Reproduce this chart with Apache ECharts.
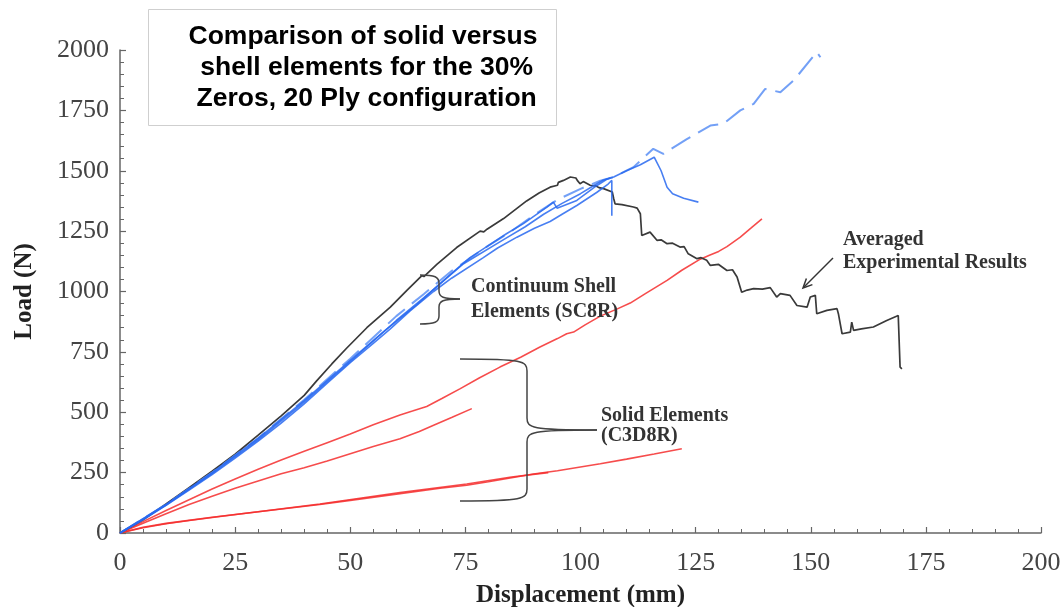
<!DOCTYPE html>
<html>
<head>
<meta charset="utf-8">
<title>Load vs displacement – solid vs shell elements</title>
<script src="https://cdn.jsdelivr.net/npm/echarts@6/dist/echarts.min.js"></script>
<style>
  html, body { margin: 0; padding: 0; background: #ffffff; }
  #chart { width: 1060px; height: 607px; }
</style>
</head>
<body>
<div id="chart"></div>
<script>
// ---- data: [displacement (mm), load (N)] ----
const experimentalAvg = [
  [0,0],[5,55],[10,120],[15,188],[20,256],[25,326],[30,405],[35,485],[40,570],[42.7,630],
  [46,700],[49.2,765],[53.6,850],[58.7,935],[62.3,1005],[65.5,1065],[66,1062],[68.8,1112],
  [73.1,1182],[78.2,1250],[79,1247],[79.7,1258],[83.3,1302],[88.3,1375],[91,1408],[93.4,1432],
  [95,1440],[95.2,1452],[96.3,1460],[97.8,1474],[99,1470],[99.3,1460],[99.9,1446],[100.6,1455],
  [102.1,1440],[103.5,1436],[104,1430],[105,1426],[106.9,1412],[107.2,1385],[107.5,1363],
  [109,1360],[111.5,1350],[112.3,1345],[113,1322],[113.3,1232],[115.1,1246],[116.6,1212],
  [117.5,1214],[118.8,1198],[120,1200],[121.6,1184],[122.5,1186],[123.4,1156],[125.3,1136],
  [126.2,1140],[127.4,1129],[128.2,1108],[130,1112],[131.8,1087],[133,1090],[134,1060],[135,997],
  [136.2,1006],[137.6,1012],[139.5,1010],[141.2,1016],[142.6,977],[143.4,991],[145.5,984],
  [147,942],[149.2,935],[149.9,977],[151,984],[151.3,908],[153.5,922],[155.7,929],[156,908],
  [156.8,825],[158.6,832],[158.9,873],[159.3,839],[161,845],[163.6,853],[166.5,880],[169,901],
  [169.4,687],[169.8,680]
];

// continuum shell (SC8R) runs
const shellRunA = [
  [0,0],[5,55],[10,115],[15,178],[20,242],[25,310],[30,380],[35,455],[40,535],[45,620],[50,705],
  [55,785],[58.7,845],[63,920],[68.1,1000],[72,1055],[78.9,1140],[82,1180],[86.2,1225],[90,1262],
  [93.4,1290],[96,1320],[99.2,1356],[103.5,1410],[106,1445],[106.8,1460],[106.8,1314]
];
const shellRunB = [
  [0,0],[10,118],[20,250],[30,392],[40,548],[50,715],[57,830],[64.4,945],[71.7,1070],[76,1140],
  [80.4,1195],[84,1240],[87.6,1281],[92.7,1349],[94.1,1370],[94.9,1345],[99.2,1377],[103.5,1438],
  [105.7,1465],[107.2,1474],[110,1500],[113,1525],[116,1556],[117.5,1500],[118.8,1432],[120,1405],
  [122.4,1386],[125.6,1370]
];
const shellRunC = [
  [0,0],[10,116],[20,246],[30,386],[40,542],[50,710],[60,880],[66,975],[74.6,1115],[83.3,1215],
  [88,1268],[92,1320],[96,1365],[100,1405],[103,1440],[105,1462],[106.5,1470]
];
const shellRunDashed = [
  [0,0],[10,118],[20,250],[30,393],[40,552],[50,722],[60,898],[66,990],[72,1085],[80,1190],
  [85,1250],[90,1318],[95,1380],[100,1425],[104.3,1459],[107.2,1474],[111.5,1515],[115.8,1591],
  [118,1570],[123,1630],[128.2,1687],[131,1694],[134.7,1750],[137.6,1777],[140.1,1839],
  [143.4,1825],[146.3,1874],[151.3,1991],[152.1,1970]
];

// solid (C3D8R) runs
const solidRunUpper = [
  [0,0],[5,47],[10,93],[15,138],[20,182],[25,224],[30,264],[35,302],[40,338],[45,374],
  [50,410],[55,448],[60.8,489],[63.5,505],[66.6,524],[70,558],[73.9,598],[78,642],[82.5,687],
  [87,728],[91.2,770],[95,805],[97,825],[98.5,832],[101,862],[104.3,898],[108,928],[110.8,952],
  [114,990],[118.8,1046],[122,1088],[126,1134],[128,1150],[130,1166],[131.8,1186],[134.7,1225],
  [137,1262],[139.4,1301]
];
const solidRunMiddle = [
  [0,0],[5,40],[10,80],[15,118],[20,152],[25,185],[30,215],[35,245],[40,270],[45,298],[50,328],
  [55,358],[60.8,390],[65,420],[68.1,446],[72,478],[76.4,515]
];
const solidRunLowLong = [
  [0,0],[5,22],[10,38],[15,52],[21.7,68],[30,88],[43.4,118],[50,135],[60.8,163],[69.5,185],
  [75.3,198],[80,212],[89.8,244],[95,258],[104.3,287],[110,306],[116,327],[122,349]
];
const solidRunLowShort = [
  [0,0],[5,24],[10,40],[20,65],[30,88],[43.4,120],[60.8,168],[75.3,203],[85,232],[93,250]
];

// axis tick spacing and text
const xTickStep = 25, xMax = 200;
const yTickStep = 250, yMax = 2000;
const xAxisTitle = 'Displacement (mm)';
const yAxisTitle = 'Load (N)';
const titleLines = ['Comparison of solid versus', ' shell elements for the 30%', ' Zeros, 20 Ply configuration'];
const shellNote = ['Continuum Shell', 'Elements (SC8R)'];
const solidNote = ['Solid Elements', '(C3D8R)'];
const experimentNote = ['Averaged', 'Experimental Results'];

// ---- styles ----
const SERIF = '"Liberation Serif", "DejaVu Serif", serif';
const SANS = '"Liberation Sans", Arial, sans-serif';
const AXIS_GREY = '#666666';
const RED = 'rgba(245, 45, 45, 0.85)';
const BLUE = 'rgba(40, 105, 240, 0.85)';
const LIGHT_BLUE = 'rgba(100, 150, 245, 0.9)';
const DARK = '#3a3a3a';
const NOTE_INK = '#444444';

function lineSeries(name, data, color, width, dash) {
  return {
    name: name,
    type: 'line',
    data: data,
    showSymbol: false,
    symbol: 'none',
    animation: false,
    lineStyle: { color: color, width: width, type: dash || 'solid' },
    emphasis: { disabled: true }
  };
}

// curly brace opening to the left: ends at xEnd, spine at xSpine, point at (xTip, yMid)
function brace(xEnd, xSpine, xTip, yTop, yMid, yBot, r) {
  const st = { stroke: NOTE_INK, lineWidth: 1.5, fill: null };
  const mk = (type, shape) => ({ type: type, silent: true, z: 50, shape: shape, style: st });
  return [
    mk('bezierCurve', { x1: xEnd, y1: yTop, cpx1: xSpine - 4, cpy1: yTop, cpx2: xSpine, cpy2: yTop + 2, x2: xSpine, y2: yTop + r }),
    mk('line', { x1: xSpine, y1: yTop + r, x2: xSpine, y2: yMid - r }),
    mk('bezierCurve', { x1: xSpine, y1: yMid - r, cpx1: xSpine, cpy1: yMid - 2, cpx2: xSpine + 4, cpy2: yMid, x2: xTip, y2: yMid }),
    mk('bezierCurve', { x1: xTip, y1: yMid, cpx1: xSpine + 4, cpy1: yMid, cpx2: xSpine, cpy2: yMid + 2, x2: xSpine, y2: yMid + r }),
    mk('line', { x1: xSpine, y1: yMid + r, x2: xSpine, y2: yBot - r }),
    mk('bezierCurve', { x1: xSpine, y1: yBot - r, cpx1: xSpine, cpy1: yBot - 2, cpx2: xSpine - 4, cpy2: yBot, x2: xEnd, y2: yBot })
  ];
}

const axisCommon = {
  type: 'value',
  axisLine: { show: true, onZero: false, lineStyle: { color: AXIS_GREY, width: 1.5 } },
  axisTick: { show: true, inside: true, length: 6, lineStyle: { color: AXIS_GREY, width: 1.2 } },
  minorTick: { show: true, splitNumber: 5, length: 4, lineStyle: { color: AXIS_GREY, width: 1 } },
  splitLine: { show: false },
  axisLabel: { fontFamily: SERIF, fontSize: 26, color: '#444444', formatter: v => String(v) }
};

const chart = echarts.init(document.getElementById('chart'), null, { renderer: 'canvas' });

const graphics = [
  // title box
  {
    type: 'rect', silent: true, z: 100,
    shape: { x: 148.5, y: 9.5, width: 408, height: 116 },
    style: { fill: '#ffffff', stroke: '#cfcfcf', lineWidth: 1 }
  },
  {
    type: 'text', silent: true, z: 101,
    x: 363, y: 21,
    style: {
      text: titleLines.join('\n'),
      font: 'bold 26.5px ' + SANS,
      fill: '#000000',
      align: 'center',
      verticalAlign: 'top',
      lineHeight: 31
    }
  },
  // label for the shell runs
  {
    type: 'text', silent: true, z: 50,
    x: 471, y: 274,
    style: { text: shellNote.join('\n'), font: 'bold 20px ' + SERIF, fill: '#333333', lineHeight: 25, verticalAlign: 'top' }
  },
  // label for the solid runs
  {
    type: 'text', silent: true, z: 50,
    x: 601, y: 406,
    style: { text: solidNote.join('\n'), font: 'bold 20px ' + SERIF, fill: '#333333', lineHeight: 20, verticalAlign: 'top' }
  },
  // arrow and label for the experimental average
  {
    type: 'polyline', silent: true, z: 50,
    shape: { points: [[833, 258], [804, 287]] },
    style: { stroke: '#333333', lineWidth: 1.5, fill: null }
  },
  {
    type: 'polyline', silent: true, z: 50,
    shape: { points: [[812.4, 284.6], [803, 288], [806.4, 278.6]] },
    style: { stroke: '#333333', lineWidth: 1.5, fill: null }
  },
  {
    type: 'text', silent: true, z: 50,
    x: 843, y: 228,
    style: { text: experimentNote.join('\n'), font: 'bold 20px ' + SERIF, fill: '#333333', lineHeight: 23, verticalAlign: 'top' }
  }
].concat(
  brace(420, 439, 460, 275, 299, 324, 8),
  brace(460, 527, 597, 359, 430, 501, 12)
);

chart.setOption({
  animation: false,
  backgroundColor: '#ffffff',
  grid: { left: 120, right: 19, top: 50, bottom: 74, containLabel: false, outerBoundsMode: 'none' },
  xAxis: Object.assign({}, axisCommon, {
    min: 0, max: xMax, interval: xTickStep,
    axisLabel: Object.assign({}, axisCommon.axisLabel, { margin: 17 }),
    name: xAxisTitle,
    nameLocation: 'middle',
    nameGap: 50,
    nameTextStyle: { fontFamily: SERIF, fontSize: 25, fontWeight: 'bold', color: '#222222' }
  }),
  yAxis: Object.assign({}, axisCommon, {
    min: 0, max: yMax, interval: yTickStep,
    axisLabel: Object.assign({}, axisCommon.axisLabel, { margin: 11 }),
    name: yAxisTitle,
    nameLocation: 'middle',
    nameGap: 83,
    nameTextStyle: { fontFamily: SERIF, fontSize: 25, fontWeight: 'bold', color: '#222222' }
  }),
  series: [
    lineSeries('Solid upper', solidRunUpper, RED, 1.6),
    lineSeries('Solid middle', solidRunMiddle, RED, 1.6),
    lineSeries('Solid low long', solidRunLowLong, RED, 1.6),
    lineSeries('Solid low short', solidRunLowShort, RED, 1.6),
    lineSeries('Averaged experimental', experimentalAvg, DARK, 1.7),
    lineSeries('Shell dashed', shellRunDashed, LIGHT_BLUE, 2, [22, 9]),
    lineSeries('Shell A', shellRunA, BLUE, 1.6),
    lineSeries('Shell B', shellRunB, BLUE, 1.6),
    lineSeries('Shell C', shellRunC, BLUE, 1.6)
  ],
  graphic: graphics
});
</script>
</body>
</html>
